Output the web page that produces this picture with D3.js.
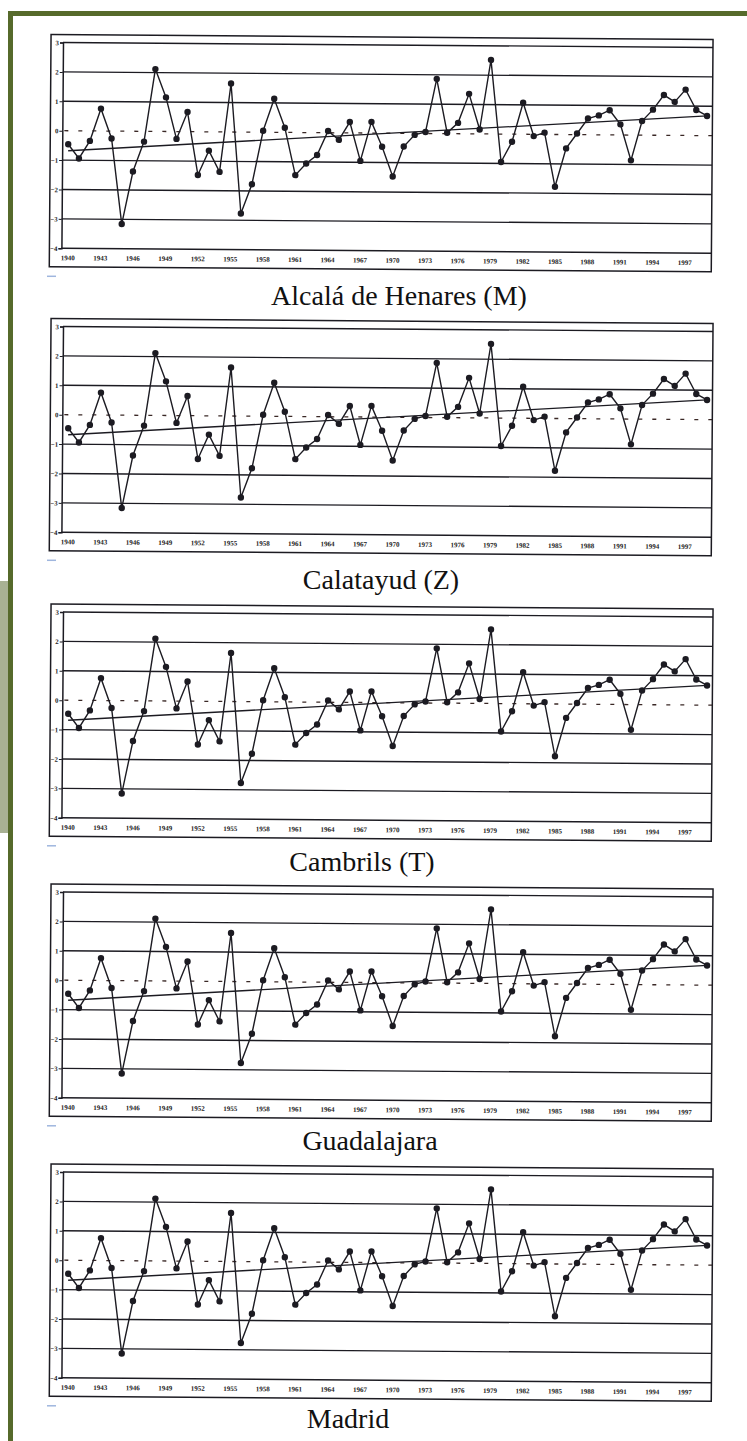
<!DOCTYPE html>
<html>
<head>
<meta charset="utf-8">
<script src="https://cdn.jsdelivr.net/npm/d3@7"></script>
<style>
  html, body { margin: 0; padding: 0; background: #fff; }
  svg { display: block; }
  svg text { font-family: "Liberation Serif", "Times New Roman", serif; }
</style>
</head>
<body>
<svg id="chart" width="747" height="1441"></svg>
<script>
// Station names, one panel each
const stations = ["Alcalá de Henares (M)", "Calatayud (Z)", "Cambrils (T)", "Guadalajara", "Madrid"];

// Years of the series
const years = [
  1940, 1941, 1942, 1943, 1944, 1945, 1946, 1947, 1948, 1949,
  1950, 1951, 1952, 1953, 1954, 1955, 1956, 1957, 1958, 1959,
  1960, 1961, 1962, 1963, 1964, 1965, 1966, 1967, 1968, 1969,
  1970, 1971, 1972, 1973, 1974, 1975, 1976, 1977, 1978, 1979,
  1980, 1981, 1982, 1983, 1984, 1985, 1986, 1987, 1988, 1989,
  1990, 1991, 1992, 1993, 1994, 1995, 1996, 1997, 1998, 1999
];

// Standardised anomaly per year
const anomalies = [
  -0.46, -0.94, -0.34, 0.76, -0.25, -3.16, -1.37, -0.35, 2.12, 1.16,
  -0.25, 0.67, -1.47, -0.64, -1.36, 1.65, -2.77, -1.77, 0.05, 1.14,
  0.16, -1.45, -1.05, -0.76, 0.06, -0.24, 0.37, -0.95, 0.38, -0.46,
  -1.47, -0.45, -0.05, 0.05, 1.86, 0.03, 0.37, 1.36, 0.15, 2.52,
  -0.95, -0.26, 1.07, -0.06, 0.06, -1.78, -0.47, 0.04, 0.55, 0.66,
  0.84, 0.36, -0.86, 0.48, 0.87, 1.37, 1.14, 1.56, 0.87, 0.67
];

// Linear trend end points
const trendYears = [1940, 1999];
const trendValues = [-0.68, 0.67];

// Axis ticks
const yTicks = [3, 2, 1, 0, -1, -2, -3, -4];
const xTicks = [1940, 1943, 1946, 1949, 1952, 1955, 1958, 1961, 1964, 1967,
                1970, 1973, 1976, 1979, 1982, 1985, 1988, 1991, 1994, 1997];

// Page layout
const W = 747, H = 1441;
const boxLeft = 51, boxRight = 713, axisX = 63;
const plotH = 205.8;
const panelTops = [42.5, 326.5, 612, 892, 1172];   // y of the "3" grid line
const titleX = [399, 381, 362, 370, 348];
const titleDy = [57, 57, 53, 52, 50];              // title baseline below the "-4" line
const tilt = [0.44, 0.44, 0.44, 0.44, 0.44];

const svg = d3.select("#chart");

// Page background and frame
svg.append("rect").attr("width", W).attr("height", H).attr("fill", "#ffffff");
svg.append("rect").attr("x", 0).attr("y", 581).attr("width", 8).attr("height", 252).attr("fill", "#a8b193");
svg.append("rect").attr("x", 8).attr("y", 11).attr("width", 5).attr("height", H - 11).attr("fill", "#566a2b");
svg.append("rect").attr("x", 8).attr("y", 11).attr("width", W - 8).attr("height", 5).attr("fill", "#566a2b");

const x = d3.scaleLinear().domain([1940, 1999]).range([69, 707.6]);
const ink = "#1c1b22";

stations.forEach((name, i) => {
  const top = panelTops[i];
  const y = d3.scaleLinear().domain([3, -4]).range([top, top + plotH]);
  const bottom = top + plotH;
  const g = svg.append("g")
    .attr("transform", `rotate(${tilt[i]}, ${axisX}, ${top})`);

  // horizontal grid lines (solid), except the zero line which is dashed
  g.append("g")
    .selectAll("line")
    .data(yTicks.filter(v => v !== 0))
    .join("line")
    .attr("x1", axisX).attr("x2", boxRight)
    .attr("y1", d => y(d)).attr("y2", d => y(d))
    .attr("stroke", ink).attr("stroke-width", 1.4);

  g.append("line")
    .attr("x1", axisX + 2).attr("x2", boxRight)
    .attr("y1", y(0)).attr("y2", y(0))
    .attr("stroke", "#3a2826").attr("stroke-width", 1.3)
    .attr("stroke-dasharray", "4,10");

  // outer frame
  g.append("rect")
    .attr("x", boxLeft).attr("y", top - 8)
    .attr("width", boxRight - boxLeft).attr("height", plotH + 8 + 18.5)
    .attr("fill", "none").attr("stroke", ink).attr("stroke-width", 1.5);

  // y axis
  const yAxis = d3.axisLeft(y).tickValues(yTicks).tickSize(3).tickPadding(1)
    .tickFormat(d3.format("d"));
  const ya = g.append("g").attr("transform", `translate(${axisX},0)`).call(yAxis);
  ya.attr("font-family", null);
  ya.select(".domain").attr("stroke", ink).attr("stroke-width", 1.5);
  ya.selectAll(".tick line").attr("stroke", ink).attr("stroke-width", 1);
  ya.selectAll(".tick text")
    .attr("font-size", 6.8).attr("font-weight", "bold").attr("fill", ink);

  // x axis labels
  const xAxis = d3.axisBottom(x).tickValues(xTicks).tickSize(0).tickPadding(7)
    .tickFormat(d3.format("d"));
  const xa = g.append("g").attr("transform", `translate(0,${bottom})`).call(xAxis);
  xa.attr("font-family", null);
  xa.select(".domain").remove();
  xa.selectAll(".tick text")
    .attr("font-size", 7).attr("font-weight", "bold").attr("fill", ink);

  // linear trend
  g.append("line")
    .attr("x1", x(trendYears[0])).attr("y1", y(trendValues[0]))
    .attr("x2", x(trendYears[1])).attr("y2", y(trendValues[1]))
    .attr("stroke", ink).attr("stroke-width", 1.3);

  // anomaly series
  const line = d3.line().x((d, j) => x(years[j])).y(d => y(d));
  g.append("path").datum(anomalies)
    .attr("d", line).attr("fill", "none")
    .attr("stroke", ink).attr("stroke-width", 1.4);

  g.append("g").selectAll("circle")
    .data(anomalies)
    .join("circle")
    .attr("cx", (d, j) => x(years[j])).attr("cy", d => y(d))
    .attr("r", 3.2).attr("fill", ink);

  // small blue mark below each panel
  svg.append("line")
    .attr("x1", 47).attr("x2", 56)
    .attr("y1", bottom + 28).attr("y2", bottom + 28)
    .attr("stroke", "#9fb6de").attr("stroke-width", 1.5);

  // station title
  svg.append("text")
    .attr("x", titleX[i]).attr("y", bottom + titleDy[i])
    .attr("text-anchor", "middle")
    .attr("font-size", 28).attr("fill", "#111")
    .text(name);
});
</script>
</body>
</html>
